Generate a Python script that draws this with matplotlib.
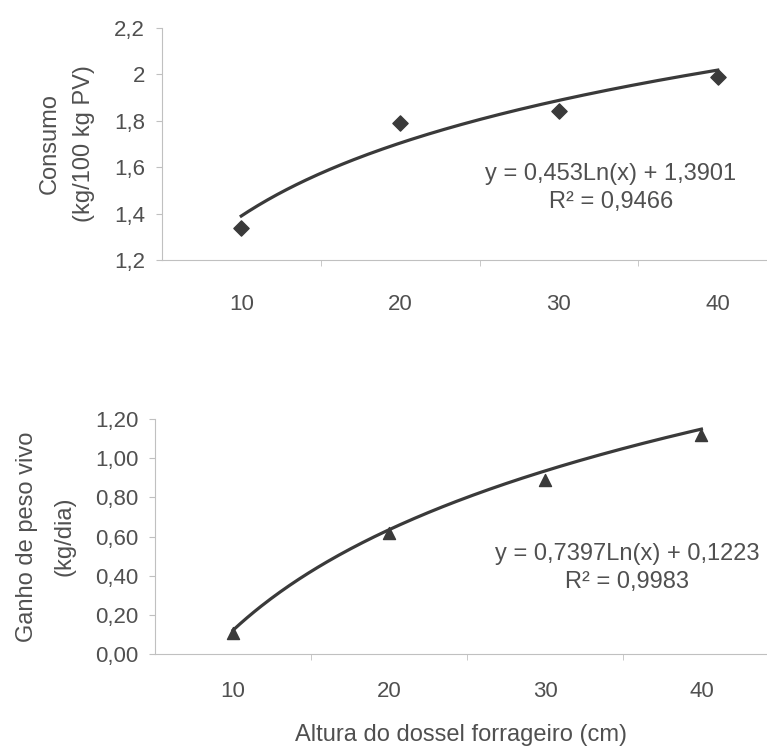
import numpy as np
import matplotlib.pyplot as plt
from matplotlib.ticker import FuncFormatter

plt.rcParams['font.family'] = ['Liberation Sans', 'DejaVu Sans']

# Altura do dossel (cm)
altura = [10, 20, 30, 40]
# Consumo (kg/100 kg PV)
consumo = [1.34, 1.79, 1.84, 1.99]
# Ganho de peso vivo (kg/dia)
ganho = [0.11, 0.62, 0.89, 1.12]

# coeficientes das regressoes logaritmicas (x = indice do tratamento)
coef_consumo = (0.453, 1.3901)
coef_ganho = (0.7397, 0.1223)
eq_consumo = "y = 0,453Ln(x) + 1,3901\nR² = 0,9466"
eq_ganho = "y = 0,7397Ln(x) + 0,1223\nR² = 0,9983"

txt = '#505050'
spine = '#c0c0c0'
mark = '#3a3a3a'
fs = 16

fig = plt.figure(figsize=(7.67, 7.52), dpi=100)
ax1 = fig.add_axes([0.211, 0.654, 0.789, 0.309])
ax2 = fig.add_axes([0.202, 0.130, 0.798, 0.313])


def fit_curve(ax, coef):
    xs = np.linspace(10, 40, 200)
    ys = coef[0] * np.log(xs / 10.0) + coef[1]
    ax.plot(xs, ys, color=mark, lw=2.3, zorder=2)


def style(ax, xpad):
    for s in ['top', 'right']:
        ax.spines[s].set_visible(False)
    ax.spines['left'].set_color(spine)
    ax.spines['bottom'].set_color(spine)
    ax.set_xticks(altura)
    ax.set_xticks([15, 25, 35], minor=True)
    ax.tick_params(axis='x', which='major', length=0, pad=xpad, labelsize=fs, labelcolor=txt)
    ax.tick_params(axis='x', which='minor', length=4, color=spine)
    ax.tick_params(axis='y', length=4, color=spine, labelsize=fs, labelcolor=txt, pad=8)


fit_curve(ax1, coef_consumo)
ax1.scatter(altura, consumo, marker='D', s=60, color=mark, zorder=3)
ax1.set_xlim(5, 43.1)
ax1.set_ylim(1.2, 2.2)
ax1.set_yticks([1.2, 1.4, 1.6, 1.8, 2.0, 2.2])
ax1.yaxis.set_major_formatter(FuncFormatter(lambda v, p: ('%g' % round(v, 1)).replace('.', ',')))
style(ax1, 24)
ax1.set_ylabel("Consumo\n(kg/100 kg PV)", fontsize=17, color=txt, labelpad=14, linespacing=1.7)
ax1.text(0.742, 0.31, eq_consumo, transform=ax1.transAxes, ha='center', va='center',
         fontsize=17, color=txt, linespacing=1.35)

fit_curve(ax2, coef_ganho)
ax2.scatter(altura, ganho, marker='^', s=75, color=mark, zorder=3)
ax2.set_xlim(5, 44.2)
ax2.set_ylim(0, 1.2)
ax2.set_yticks([0, 0.2, 0.4, 0.6, 0.8, 1.0, 1.2])
ax2.yaxis.set_major_formatter(FuncFormatter(lambda v, p: ('%.2f' % v).replace('.', ',')))
style(ax2, 19)
ax2.set_ylabel("Ganho de peso vivo\n(kg/dia)", fontsize=17, color=txt, labelpad=14, linespacing=1.9)
ax2.set_xlabel("Altura do dossel forrageiro (cm)", fontsize=17, color=txt, labelpad=16)
ax2.text(0.771, 0.366, eq_ganho, transform=ax2.transAxes, ha='center', va='center',
         fontsize=17, color=txt, linespacing=1.35)

fig.savefig("out.png", dpi=100)
